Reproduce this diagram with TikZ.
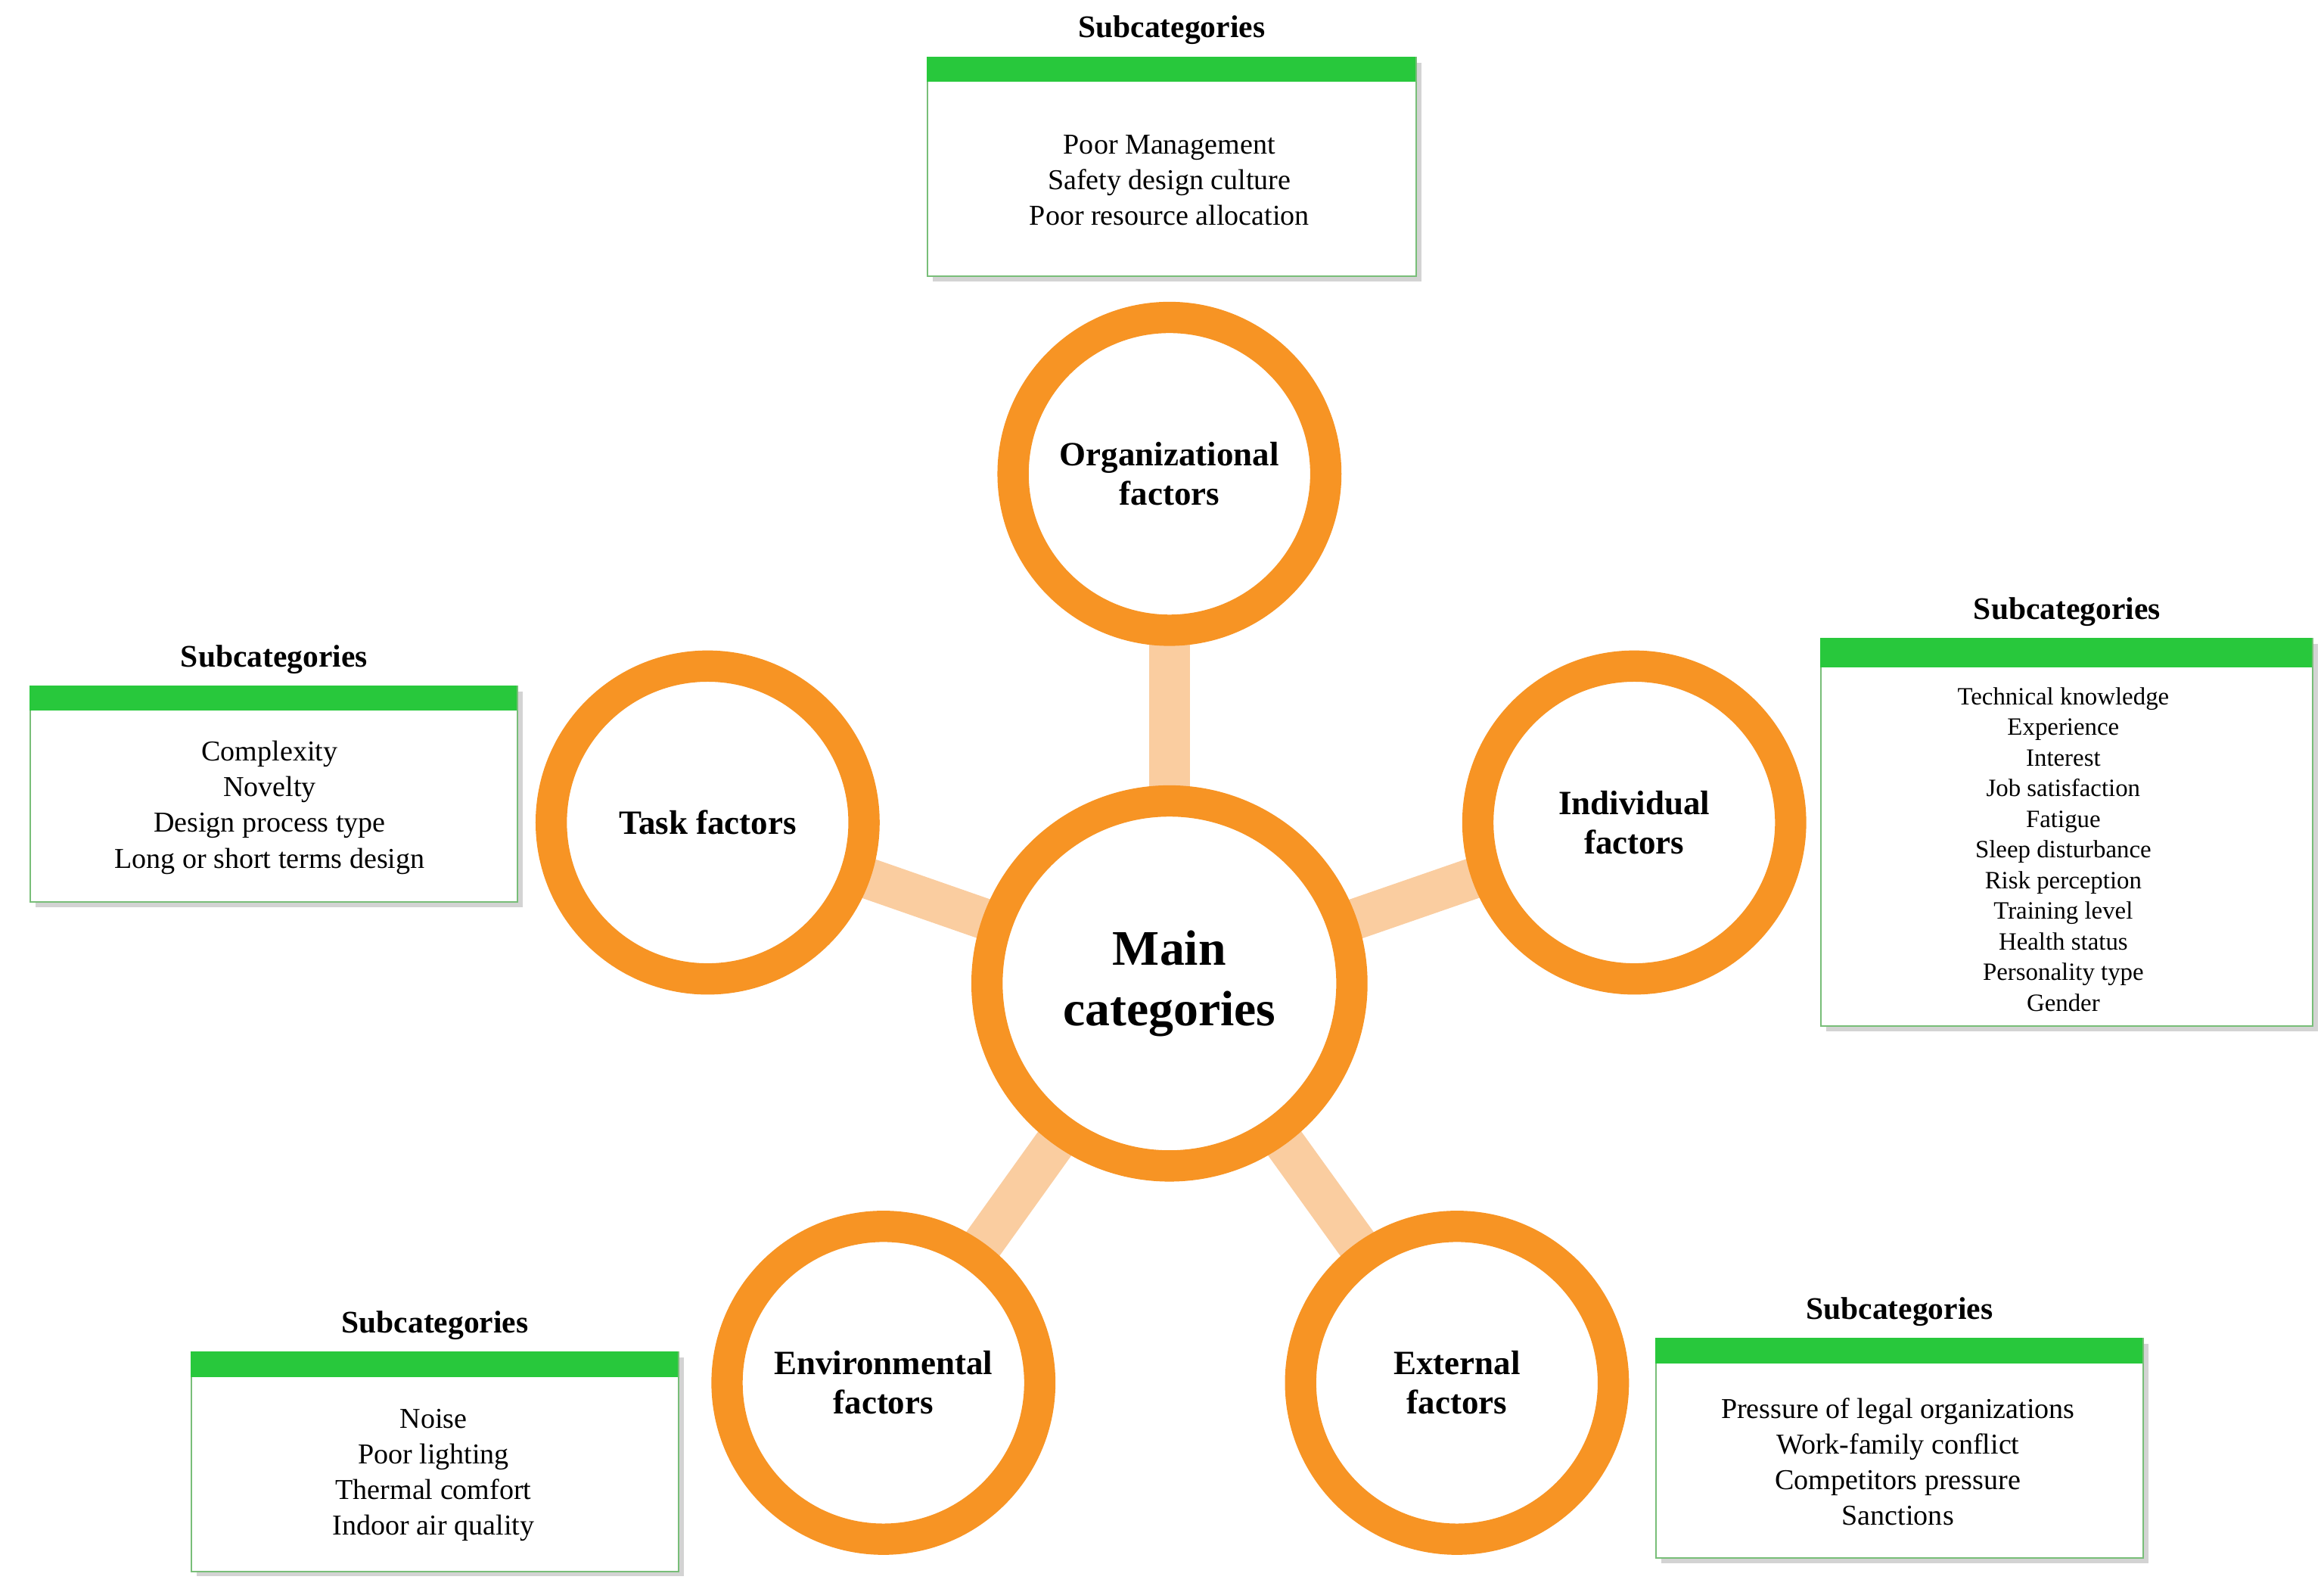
\documentclass[tikz,border=0pt]{standalone}
\usepackage{fontspec}
\setmainfont{Liberation Serif}
\usetikzlibrary{positioning,shadows}
\definecolor{ring}{RGB}{247,148,36}
\definecolor{stem}{RGB}{250,205,160}
\definecolor{bar}{RGB}{40,200,60}
\definecolor{frame}{RGB}{120,190,120}
\tikzset{
    factor/.style={
           circle,
           draw=ring,
           line width=0.42cm,
           fill=white,
           minimum size=4.2cm,
           align=center,
           font=\bfseries\fontsize{13}{15}\selectfont,
           },
    sub/.style={
           rectangle,
           draw=frame,
           line width=0.6pt,
           fill=white,
           drop shadow={shadow xshift=2pt,shadow yshift=-2pt,opacity=0.35},
           align=center,
           inner sep=0pt,
           },
    title/.style={font=\bfseries\fontsize{12}{14}\selectfont},
}
\begin{document}
\begin{tikzpicture}[
  x=0.02cm,y=-0.02cm,
  link/.style={draw=stem,line width=0.55cm},
  items/.style={align=center,font=\fontsize{11}{13.6}\selectfont}]
\useasboundingbox (0,0) rectangle (1560,1066);
% circle centres
\coordinate (pmain) at (785,660);
\coordinate (porg) at (785,318);
\coordinate (ptask) at (475,552);
\coordinate (pind) at (1097,552);
\coordinate (penv) at (593,928);
\coordinate (pext) at (978,928);
% stems
\foreach \p in {porg,ptask,pind,penv,pext}
  \draw[link] (pmain) -- (\p);
\node[factor,minimum size=4.9cm,font=\bfseries\fontsize{19}{23}\selectfont] (main) at (pmain) {Main\\categories};
\node[factor] (org) at (porg) {Organizational\\factors};
\node[factor] (task) at (ptask) {Task factors};
\node[factor] (ind) at (pind) {Individual\\factors};
\node[factor] (env) at (penv) {Environmental\\factors};
\node[factor] (ext) at (pext) {External\\factors};

% subcategory boxes
\node[sub,minimum width=6.56cm,minimum height=2.94cm,anchor=north west] (orgbox) at (622,38) {};
\fill[bar] (orgbox.north west) rectangle ++(328,17);
\node[title,above=1pt of orgbox] (orgtitle) {Subcategories};
\node[items] (orgitems) at (785,121) {Poor Management\\Safety design culture\\Poor resource allocation};

\node[sub,minimum width=6.54cm,minimum height=2.9cm,anchor=north west] (taskbox) at (20,460) {};
\fill[bar] (taskbox.north west) rectangle ++(327,17);
\node[title,above=1pt of taskbox] (tasktitle) {Subcategories};
\node[items] (taskitems) at (181,542) {Complexity\\Novelty\\Design process type\\Long or short terms design};

\node[sub,minimum width=6.6cm,minimum height=5.2cm,anchor=north west] (indbox) at (1222,428) {};
\fill[bar] (indbox.north west) rectangle ++(330,20);
\node[title,above=1pt of indbox] (indtitle) {Subcategories};
\node[items,font=\fontsize{9.5}{11.7}\selectfont] (inditems) at (1385,570) {Technical knowledge\\Experience\\Interest\\Job satisfaction\\Fatigue\\Sleep disturbance\\Risk perception\\Training level\\Health status\\Personality type\\Gender};

\node[sub,minimum width=6.54cm,minimum height=2.94cm,anchor=north west] (envbox) at (128,907) {};
\fill[bar] (envbox.north west) rectangle ++(327,17);
\node[title,above=1pt of envbox] (envtitle) {Subcategories};
\node[items] (envitems) at (291,990) {Noise\\Poor lighting\\Thermal comfort\\Indoor air quality};

\node[sub,minimum width=6.54cm,minimum height=2.94cm,anchor=north west] (extbox) at (1111,898) {};
\fill[bar] (extbox.north west) rectangle ++(327,17);
\node[title,above=1pt of extbox] (exttitle) {Subcategories};
\node[items] (extitems) at (1274,981) {Pressure of legal organizations\\Work-family conflict\\Competitors pressure\\Sanctions};
\end{tikzpicture}
\end{document}
